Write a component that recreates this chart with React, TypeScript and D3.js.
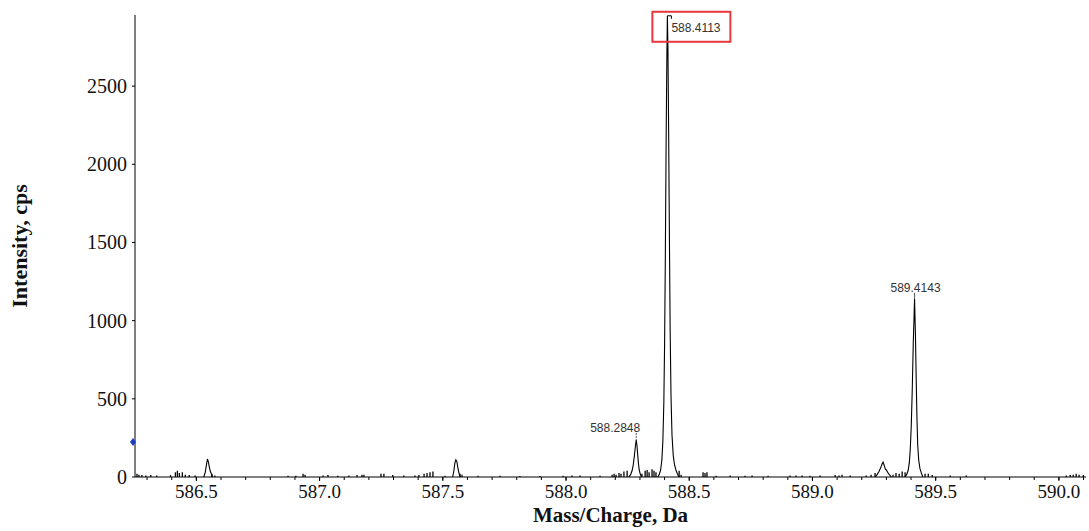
import React from 'react';
import * as d3 from 'd3';

const W = 1089;
const H = 531;
const plot = { left: 135, right: 1086, top: 15, bottom: 477 };

const xDomain: [number, number] = [586.251, 590.11];
const yMax = 2955;
const yTicks = [0, 500, 1000, 1500, 2000, 2500];
const xMajorTicks = [586.5, 587.0, 587.5, 588.0, 588.5, 589.0, 589.5, 590.0];
const xMinorStep = 0.1;

// Profile peaks [m/z, intensity]
const peak5865: [number, number][] = [
  [586.530, 0], [586.536, 30], [586.540, 70], [586.545, 115], [586.549, 95],
  [586.553, 60], [586.557, 35], [586.562, 15], [586.566, 0],
];
const peak5875: [number, number][] = [
  [587.540, 0], [587.545, 40], [587.549, 90], [587.553, 110], [587.557, 100],
  [587.561, 60], [587.565, 30], [587.570, 0],
];
const peak5882: [number, number][] = [
  [588.255, 0], [588.262, 15], [588.268, 40], [588.273, 80], [588.277, 130],
  [588.281, 190], [588.2848, 237], [588.288, 200], [588.291, 140], [588.294, 85],
  [588.297, 45], [588.301, 20], [588.306, 0],
];
const peakMain: [number, number][] = [
  [588.372, 0], [588.378, 15], [588.384, 45], [588.389, 110], [588.393, 230],
  [588.397, 480], [588.400, 850], [588.403, 1400], [588.406, 2100], [588.409, 2650],
  [588.4113, 2950], [588.4135, 2750], [588.4165, 2200], [588.4195, 1550], [588.4225, 950],
  [588.426, 520], [588.430, 270], [588.435, 140], [588.440, 80], [588.446, 45],
  [588.452, 20], [588.458, 0],
];
const peak5893: [number, number][] = [
  [589.255, 0], [589.262, 15], [589.270, 35], [589.277, 60], [589.283, 85],
  [589.2865, 95], [589.291, 75], [589.296, 50], [589.300, 45], [589.305, 30],
  [589.312, 15], [589.320, 0],
];
const peak5894: [number, number][] = [
  [589.375, 0], [589.382, 15], [589.388, 40], [589.393, 90], [589.397, 180],
  [589.401, 330], [589.405, 560], [589.409, 850], [589.4143, 1140], [589.418, 900],
  [589.421, 620], [589.424, 380], [589.427, 210], [589.431, 110], [589.436, 55],
  [589.442, 25], [589.448, 0],
];
const profiles = [peak5865, peak5875, peak5882, peakMain, peak5893, peak5894];

// Noise spikes [m/z, intensity]
const noise: [number, number][] = [
  [586.259, 20], [586.267, 15], [586.279, 12], [586.295, 10], [586.315, 12], [586.339, 10],
  [586.395, 12], [586.415, 30], [586.423, 40], [586.431, 25], [586.443, 30], [586.455, 15],
  [586.471, 12], [586.495, 10], [586.563, 20], [586.575, 10], [586.872, 8], [586.904, 8],
  [586.933, 20], [586.941, 15], [587.014, 10], [587.034, 12], [587.074, 8], [587.119, 10],
  [587.152, 12], [587.172, 15], [587.180, 15], [587.249, 20], [587.261, 20], [587.297, 12],
  [587.342, 10], [587.387, 10], [587.403, 12], [587.424, 20], [587.436, 25], [587.448, 30],
  [587.460, 35], [587.509, 8], [587.570, 20], [587.578, 15], [587.643, 8], [587.732, 8],
  [587.813, 6], [587.894, 6], [587.988, 8], [588.024, 10], [588.057, 10], [588.138, 8],
  [588.187, 15], [588.195, 20], [588.203, 15], [588.215, 25], [588.223, 20], [588.235, 35],
  [588.248, 40], [588.308, 20], [588.321, 40], [588.329, 45], [588.337, 30], [588.349, 50],
  [588.357, 40], [588.365, 30], [588.459, 40], [588.467, 15], [588.556, 30], [588.564, 25],
  [588.572, 30], [588.609, 8], [588.666, 10], [588.726, 8], [588.755, 10], [588.820, 8],
  [588.909, 10], [588.933, 10], [588.958, 10], [588.990, 8], [589.031, 10], [589.092, 12],
  [589.108, 10], [589.120, 15], [589.153, 10], [589.218, 10], [589.238, 15], [589.254, 25],
  [589.327, 15], [589.339, 25], [589.352, 20], [589.364, 35], [589.376, 30], [589.457, 20],
  [589.470, 20], [589.486, 12], [589.559, 10], [589.624, 10], [590.030, 10], [590.046, 12],
  [590.058, 15], [590.070, 20], [590.082, 15], [590.099, 12],
];

// Peak annotations
const labelMz = [588.4113, 589.4143, 588.2848];
const labelIntensity = [2950, 1140, 237];
const labelText = ['588.4113', '589.4143', '588.2848'];

const markerIntensity = 224;

const serif = '"Liberation Serif", "Times New Roman", serif';
const sans = '"Liberation Sans", Arial, sans-serif';

export default function App() {
  const x = d3.scaleLinear().domain(xDomain).range([plot.left, plot.right]);
  const y = d3.scaleLinear().domain([0, yMax]).range([plot.bottom, plot.top]);
  const line = d3.line<[number, number]>().x(d => x(d[0])).y(d => y(d[1]));
  const minorTicks = d3.range(Math.ceil(xDomain[0] / xMinorStep) * xMinorStep, xDomain[1], xMinorStep);

  const [mMz, m2Mz, m3Mz] = labelMz;
  const [mI, m2I, m3I] = labelIntensity;
  const mx = x(mMz), my = y(mI);
  const m2x = x(m2Mz), m2y = y(m2I);
  const m3x = x(m3Mz), m3y = y(m3I);
  const my0 = y(markerIntensity);

  return (
    <svg width={W} height={H} style={{ position: 'absolute', left: 0, top: 0, background: '#fff' }}>
      <rect x={0} y={0} width={W} height={H} fill="#fff" />
      {/* noise */}
      {noise.map((d, i) => (
        <line key={i} x1={x(d[0])} x2={x(d[0])} y1={y(0)} y2={y(d[1])} stroke="#000" strokeWidth={1.3} />
      ))}
      {/* profiles */}
      {profiles.map((p, i) => (
        <path key={i} d={line(p) || ''} fill="none" stroke="#000" strokeWidth={1.1} />
      ))}
      {/* axes */}
      <line x1={plot.left} x2={plot.left} y1={plot.top} y2={plot.bottom} stroke="#000" strokeWidth={1} />
      <line x1={plot.left} x2={plot.right} y1={plot.bottom} y2={plot.bottom} stroke="#000" strokeWidth={1} />
      {yTicks.map(t => (
        <g key={t}>
          <line x1={plot.left - 3} x2={plot.left} y1={y(t)} y2={y(t)} stroke="#000" />
          <text x={plot.left - 8} y={y(t)} dy="0.35em" textAnchor="end" fontFamily={serif} fontSize={20} fill="#111">{t}</text>
        </g>
      ))}
      {minorTicks.map((t, i) => (
        <line key={i} x1={x(t)} x2={x(t)} y1={plot.bottom} y2={plot.bottom + 3} stroke="#000" />
      ))}
      {xMajorTicks.map(t => (
        <g key={t}>
          <line x1={x(t)} x2={x(t)} y1={plot.bottom} y2={plot.bottom + 4} stroke="#000" />
          <text x={x(t)} y={plot.bottom + 21} textAnchor="middle" fontFamily={serif} fontSize={19} fill="#111">{t.toFixed(1)}</text>
        </g>
      ))}
      {/* blue marker */}
      <path d={`M${plot.left - 2},${my0 - 4} L${plot.left + 1},${my0} L${plot.left - 2},${my0 + 4} L${plot.left - 5},${my0} Z`} fill="#1a3fc4" />
      {/* annotations */}
      <path d={`M${mx},${my} H${mx + 4} V${my + 3}`} fill="none" stroke="#000" strokeWidth={1} />
      <text x={mx + 4} y={my + 16} fontFamily={sans} fontSize={12} fill="#333">{labelText[0]}</text>
      <rect x={mx - 15} y={my - 4} width={78} height={30} fill="none" stroke="#e8383d" strokeWidth={2} />
      <line x1={m2x} x2={m2x} y1={m2y - 6} y2={m2y} stroke="#555" strokeWidth={1} />
      <text x={m2x + 1} y={m2y - 7} textAnchor="middle" fontFamily={sans} fontSize={12} fill="#333">{labelText[1]}</text>
      <line x1={m3x} x2={m3x} y1={m3y - 7} y2={m3y} stroke="#555" strokeWidth={1} strokeDasharray="2,1" />
      <text x={m3x + 4} y={m3y - 8} textAnchor="end" fontFamily={sans} fontSize={12} fill="#333">{labelText[2]}</text>
      {/* titles */}
      <text x={(plot.left + plot.right) / 2} y={522} textAnchor="middle" fontFamily={serif} fontWeight="bold" fontSize={21} fill="#111">Mass/Charge, Da</text>
      <text transform={`translate(27,${(plot.top + plot.bottom) / 2}) rotate(-90)`} textAnchor="middle" fontFamily={serif} fontWeight="bold" fontSize={22} fill="#111">Intensity, cps</text>
    </svg>
  );
}
